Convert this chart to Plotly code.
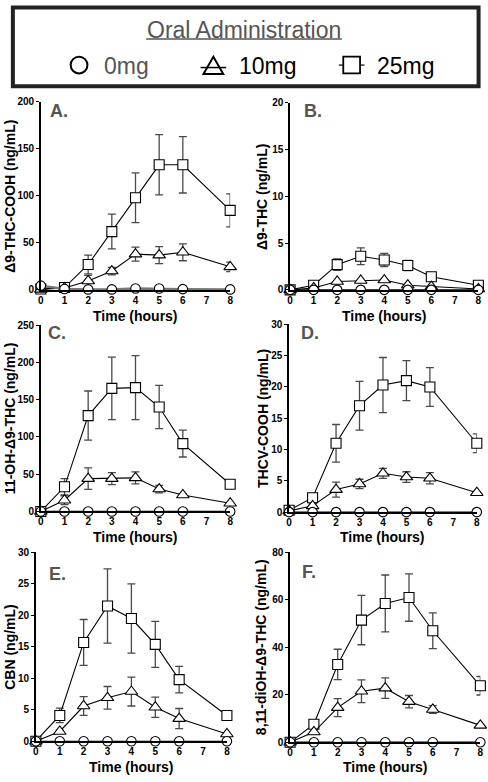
import plotly.graph_objects as go

W, H = 488, 782
FONT = "Liberation Sans, Arial, sans-serif"

hours = [0, 1, 2, 3, 4, 5, 6, 8]

# Panel A: delta9-THC-COOH
a_25 = [1, 2.5, 27, 62, 98, 133, 133, 84.5]
a_25_err = [0, 0, 10, 18.5, 26.5, 32, 30, 17.5]
a_10 = [0.5, 2, 9.5, 20, 38, 37, 40, 24.5]
a_10_err = [0, 0, 6, 4, 7.5, 9, 9, 5]
a_0 = [4.5, 1, 0.5, 0.5, 1.5, 1.5, 0.8, 0.5]

# Panel B: delta9-THC
b_25 = [0, 0.5, 2.7, 3.6, 3.2, 2.6, 1.4, 0.5]
b_25_err = [0, 0, 0.6, 0.9, 0.7, 0.55, 0.15, 0]
b_10 = [0, 0.2, 0.9, 1.0, 1.05, 0.5, 0.35, 0.1]
b_10_err = [0, 0, 0, 0, 0, 0, 0, 0]
b_0 = [0, 0, 0, 0, 0, 0, 0, 0]

# Panel C: 11-OH-delta9-THC
c_25 = [0, 33, 128.5, 165, 166, 140, 91, 36.5]
c_25_err = [0, 11, 33, 42, 43, 29, 18, 2]
c_10 = [0, 15, 44, 44, 45, 30, 22, 11]
c_10_err = [0, 6, 14.5, 8, 8, 5, 2, 1]
c_0 = [0, 0, 0, 0, 0, 0, 0, 0]

# Panel D: THCV-COOH
d_25 = [0.3, 2.3, 11, 17, 20.3, 21, 20, 11]
d_25_err = [0, 0.7, 3, 3.9, 4.4, 3.2, 3.1, 1.5]
d_10 = [0.2, 1.0, 3.6, 4.5, 6.2, 5.6, 5.4, 3.1]
d_10_err = [0, 0.3, 1.2, 0.75, 0.8, 0.85, 0.9, 0.2]
d_0 = [0, 0, 0, 0, 0, 0, 0, 0]

# Panel E: CBN
e_25 = [0, 4.1, 15.7, 21.5, 19.5, 15.4, 9.8, 4.1]
e_25_err = [0, 1.15, 3.65, 5.9, 5.5, 3.65, 2.1, 0.2]
e_10 = [0, 1.55, 5.6, 6.9, 7.9, 5.4, 3.6, 1.15]
e_10_err = [0, 0.2, 1.5, 1.8, 2.3, 1.6, 1.6, 0.1]
e_0 = [0, 0, 0, 0, 0, 0, 0, 0]

# Panel F: 8,11-diOH-delta9-THC
f_25 = [0, 7.6, 32.8, 51.5, 58.5, 61, 47, 23.8]
f_25_err = [0, 1, 6.4, 10.4, 12, 10, 7.5, 3.9]
f_10 = [0, 4.3, 14.6, 21.5, 22.8, 17.1, 13.8, 7.1]
f_10_err = [0, 1, 3.8, 4.8, 4.3, 2.6, 1.6, 0.5]
f_0 = [0, 0, 0, 0, 0, 0, 0, 0]

panel_letters = ["A.", "B.", "C.", "D.", "E.", "F."]
y_titles = ["Δ9-THC-COOH (ng/mL)", "Δ9-THC (ng/mL)", "11-OH-Δ9-THC (ng/mL)",
            "THCV-COOH (ng/mL)", "CBN (ng/mL)", "8,11-diOH-Δ9-THC (ng/mL)"]
y_max = [200, 20, 250, 30, 30, 80]
y_step = [50, 5, 50, 5, 5, 20]
x_title = "Time (hours)"
legend_title = "Oral Administration"
legend_labels = ["0mg", "10mg", "25mg"]

panels = [
    (a_25, a_25_err, a_10, a_10_err, a_0),
    (b_25, b_25_err, b_10, b_10_err, b_0),
    (c_25, c_25_err, c_10, c_10_err, c_0),
    (d_25, d_25_err, d_10, d_10_err, d_0),
    (e_25, e_25_err, e_10, e_10_err, e_0),
    (f_25, f_25_err, f_10, f_10_err, f_0),
]

# pixel geometry of each plotting area: (x at 0h, x at 8h, y at top value, y at 0)
geom = [
    (38.3, 230.0, 97.3, 288.3),
    (290.7, 481.3, 98.3, 288.3),
    (38.3, 230.0, 324.0, 513.3),
    (289.7, 479.7, 323.3, 514.0),
    (33.3, 226.7, 555.0, 746.7),
    (290.7, 483.3, 555.0, 747.7),
]
letter_pos = [(57, 107), (314, 107), (55, 332), (311, 332), (55, 577), (310, 575)]
ytitle_x = [7, 263, 7, 263, 7, 262]
xtitle_y = [315, 315, 539, 539, 773, 773]


def X(px):
    return px / W


def Y(py):
    return 1 - py / H


fig = go.Figure()
layout = dict(
    width=W, height=H, margin=dict(l=0, r=0, t=0, b=0),
    paper_bgcolor="white", plot_bgcolor="white", showlegend=False,
    font=dict(family=FONT, color="black"),
)
annotations = []
shapes = []

for i, (s25, s25e, s10, s10e, s0) in enumerate(panels):
    n = i + 1
    xa = "x" if n == 1 else f"x{n}"
    ya = "y" if n == 1 else f"y{n}"
    x0p, x8p, ytp, y0p = geom[i]
    err_col = "#4a4a4a"
    circ_line = dict(color="#777777", width=2.5) if i == 0 else dict(color="black", width=1.2)
    fig.add_trace(go.Scatter(
        x=hours, y=s25, xaxis=xa, yaxis=ya, mode="lines+markers",
        line=dict(color="black", width=1.1),
        marker=dict(symbol="square", size=10, color="white", line=dict(color="black", width=1.1)),
        error_y=dict(type="data", array=s25e, visible=True, color=err_col, thickness=1.3, width=4),
        cliponaxis=False,
    ))
    fig.add_trace(go.Scatter(
        x=hours, y=s10, xaxis=xa, yaxis=ya, mode="lines+markers",
        line=dict(color="black", width=1.1),
        marker=dict(symbol="triangle-up", size=11, color="white", line=dict(color="black", width=1.1)),
        error_y=dict(type="data", array=s10e, visible=True, color=err_col, thickness=1.3, width=4),
        cliponaxis=False,
    ))
    fig.add_trace(go.Scatter(
        x=hours, y=s0, xaxis=xa, yaxis=ya, mode="lines+markers",
        line=circ_line,
        marker=dict(symbol="circle", size=9.5, color="white", line=dict(color="black", width=1.1)),
        cliponaxis=False,
    ))
    axis_common = dict(
        showline=True, linecolor="black", linewidth=1.5, ticks="outside", ticklen=3,
        tickwidth=1.2, tickcolor="black", showgrid=False, zeroline=False,
        tickfont=dict(family=FONT, size=10, color="black", weight="bold"),
    )
    layout["xaxis" if n == 1 else f"xaxis{n}"] = dict(
        axis_common, domain=[X(x0p), X(x8p)], range=[0, 8], anchor=ya,
        tickmode="array", tickvals=list(range(0, 9)), ticks="",
    )
    layout["yaxis" if n == 1 else f"yaxis{n}"] = dict(
        axis_common, domain=[Y(y0p), Y(ytp)], range=[0, y_max[i]], anchor=xa,
        tickmode="linear", tick0=0, dtick=y_step[i],
    )
    annotations.append(dict(
        text=panel_letters[i], x=X(letter_pos[i][0]), y=Y(letter_pos[i][1]),
        xref="paper", yref="paper", showarrow=False, xanchor="center", yanchor="middle",
        font=dict(family=FONT, size=18, color="#555555", weight="bold"),
    ))
    annotations.append(dict(
        text=y_titles[i], x=X(ytitle_x[i]), y=Y((ytp + y0p) / 2), textangle=-90,
        xref="paper", yref="paper", showarrow=False, xanchor="center", yanchor="middle",
        font=dict(family=FONT, size=14, color="black", weight="bold"),
    ))
    annotations.append(dict(
        text=x_title, x=X((x0p + x8p) / 2), y=Y(xtitle_y[i]),
        xref="paper", yref="paper", showarrow=False, xanchor="center", yanchor="middle",
        font=dict(family=FONT, size=14, color="black", weight="bold"),
    ))

# legend box
shapes.append(dict(type="rect", xref="paper", yref="paper",
                   x0=X(10), x1=X(481.5), y0=Y(81.5), y1=Y(1.5),
                   line=dict(color="#222222", width=4), fillcolor="white", layer="below"))
annotations.append(dict(text=legend_title, x=X(244), y=Y(24), xref="paper", yref="paper",
                        showarrow=False, xanchor="center", yanchor="middle",
                        font=dict(family=FONT, size=23, color="#555555")))
shapes.append(dict(type="line", xref="paper", yref="paper", x0=X(145), x1=X(343),
                   y0=Y(33.5), y1=Y(33.5), line=dict(color="#555555", width=1.6)))
# legend symbols
shapes.append(dict(type="circle", xref="paper", yref="paper", x0=X(68.5), x1=X(85.5),
                   y0=Y(68.5), y1=Y(51.5), line=dict(color="black", width=2)))
tri = f"M {X(213)} {Y(51.5)} L {X(203)} {Y(69)} L {X(223)} {Y(69)} Z"
shapes.append(dict(type="path", xref="paper", yref="paper", path=tri,
                   line=dict(color="black", width=2)))
shapes.append(dict(type="line", xref="paper", yref="paper", x0=X(200), x1=X(226),
                   y0=Y(62.5), y1=Y(62.5), line=dict(color="black", width=1.5)))
shapes.append(dict(type="line", xref="paper", yref="paper", x0=X(340), x1=X(366),
                   y0=Y(60), y1=Y(60), line=dict(color="black", width=1.2)))
shapes.append(dict(type="rect", xref="paper", yref="paper", x0=X(344.5), x1=X(361.5),
                   y0=Y(68.5), y1=Y(51.5), line=dict(color="black", width=1.8), fillcolor="white"))
legend_text_x = [100, 237, 377]
legend_text_col = ["#555555", "black", "black"]
for lx, lab, col in zip(legend_text_x, legend_labels, legend_text_col):
    annotations.append(dict(text=lab, x=X(lx), y=Y(61), xref="paper", yref="paper",
                            showarrow=False, xanchor="left", yanchor="middle",
                            font=dict(family=FONT, size=23, color=col)))

layout["annotations"] = annotations
layout["shapes"] = shapes
fig.update_layout(**layout)
fig.write_html(
    "out.html",
    config={"displayModeBar": False},
    post_script="document.body.style.margin='0';document.body.style.overflow='hidden';",
)
